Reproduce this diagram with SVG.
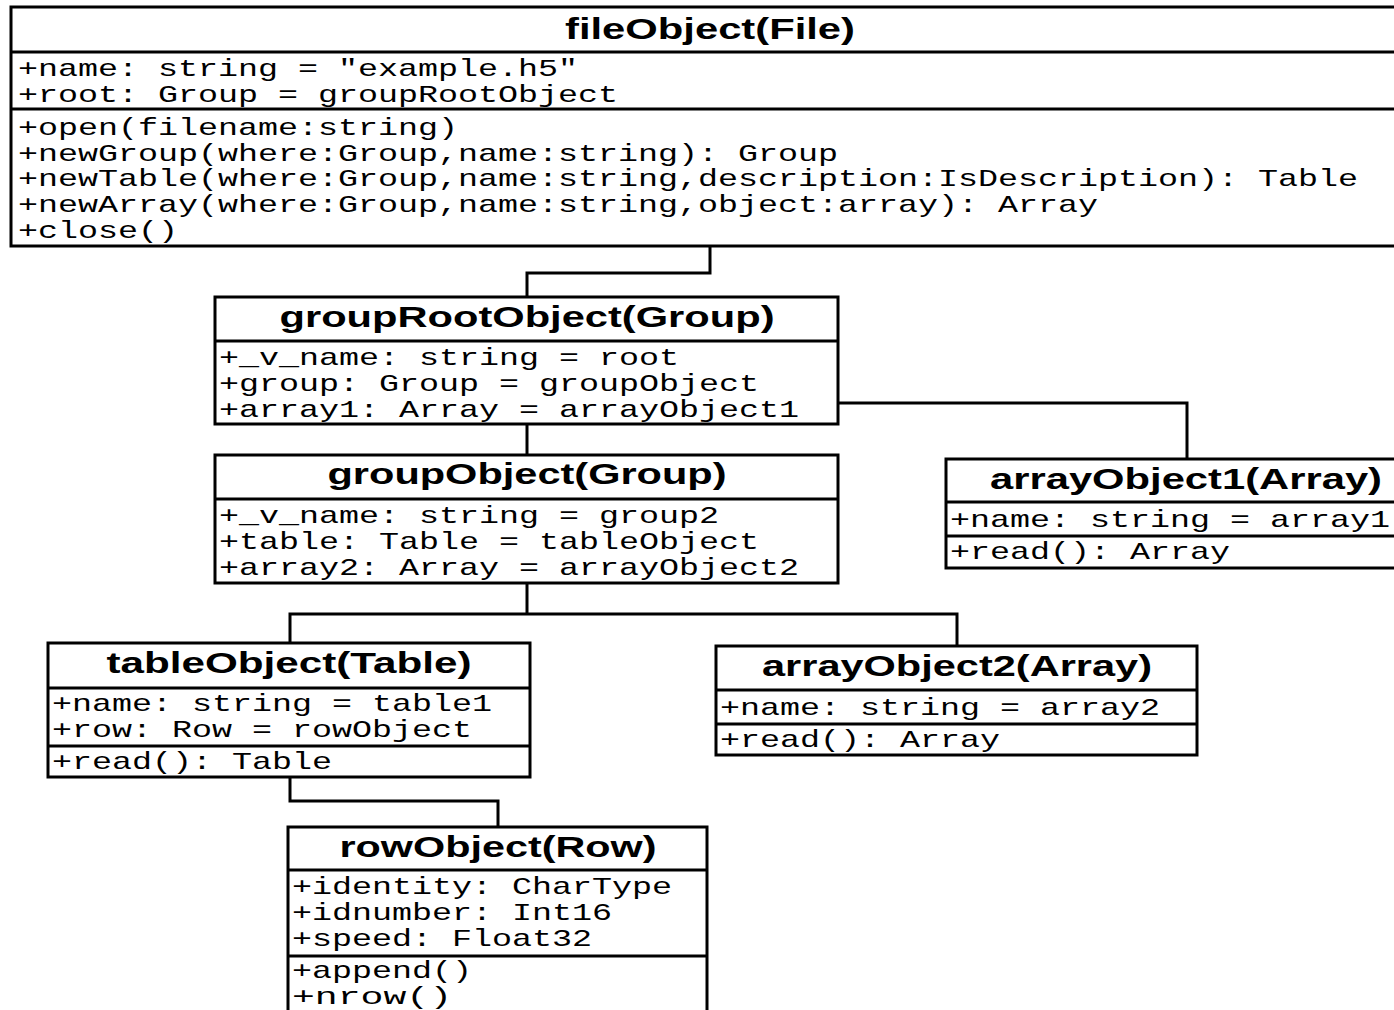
<svg xmlns="http://www.w3.org/2000/svg" width="1394" height="1010" viewBox="0 0 1394 1010">
  <style>
    .box { fill: #ffffff; stroke: #000000; stroke-width: 3; }
    .div { stroke: #000000; stroke-width: 3; }
    .title { font-family: "Liberation Sans", Arial, sans-serif; font-weight: bold; font-size: 29px; fill: #000000; text-anchor: middle; }
    .mono { font-family: "Liberation Mono", "Courier New", monospace; font-size: 24px; fill: #000000; }
    .conn { fill: none; stroke: #000000; stroke-width: 3; }
  </style>
  <rect width="1394" height="1010" fill="#ffffff"/>

  <!-- connectors -->
  <g id="connectors">
    <polyline class="conn" points="710,246 710,273 527,273 527,297"/>
    <polyline class="conn" points="838,403 1187,403 1187,459"/>
    <polyline class="conn" points="527,424 527,455"/>
    <polyline class="conn" points="527,583 527,614"/>
    <polyline class="conn" points="290,643 290,614 957,614 957,646"/>
    <polyline class="conn" points="290,777 290,801 498,801 498,827"/>
  </g>

  <!-- fileObject -->
  <g id="fileObject">
    <rect class="box" x="11" y="7" width="1390" height="239"/>
    <line class="div" x1="11" y1="52" x2="1401" y2="52"/>
    <line class="div" x1="11" y1="109" x2="1401" y2="109"/>
    <text class="title" x="710" y="39" textLength="290" lengthAdjust="spacingAndGlyphs">fileObject(File)</text>
    <text class="mono" x="18" y="76" textLength="560" lengthAdjust="spacingAndGlyphs">+name: string = "example.h5"</text>
    <text class="mono" x="18" y="102" textLength="600" lengthAdjust="spacingAndGlyphs">+root: Group = groupRootObject</text>
    <text class="mono" x="18" y="135" textLength="440" lengthAdjust="spacingAndGlyphs">+open(filename:string)</text>
    <text class="mono" x="18" y="161" textLength="820" lengthAdjust="spacingAndGlyphs">+newGroup(where:Group,name:string): Group</text>
    <text class="mono" x="18" y="186" textLength="1340" lengthAdjust="spacingAndGlyphs">+newTable(where:Group,name:string,description:IsDescription): Table</text>
    <text class="mono" x="18" y="212" textLength="1080" lengthAdjust="spacingAndGlyphs">+newArray(where:Group,name:string,object:array): Array</text>
    <text class="mono" x="18" y="238" textLength="160" lengthAdjust="spacingAndGlyphs">+close()</text>
  </g>

  <!-- groupRootObject -->
  <g id="groupRootObject">
    <rect class="box" x="215" y="297" width="623" height="127"/>
    <line class="div" x1="215" y1="341" x2="838" y2="341"/>
    <text class="title" x="527" y="327" textLength="495" lengthAdjust="spacingAndGlyphs">groupRootObject(Group)</text>
    <text class="mono" x="219" y="365" textLength="460" lengthAdjust="spacingAndGlyphs">+_v_name: string = root</text>
    <text class="mono" x="219" y="391" textLength="540" lengthAdjust="spacingAndGlyphs">+group: Group = groupObject</text>
    <text class="mono" x="219" y="417" textLength="580" lengthAdjust="spacingAndGlyphs">+array1: Array = arrayObject1</text>
  </g>

  <!-- groupObject -->
  <g id="groupObject">
    <rect class="box" x="215" y="455" width="623" height="128"/>
    <line class="div" x1="215" y1="499" x2="838" y2="499"/>
    <text class="title" x="527" y="484" textLength="399" lengthAdjust="spacingAndGlyphs">groupObject(Group)</text>
    <text class="mono" x="219" y="523" textLength="500" lengthAdjust="spacingAndGlyphs">+_v_name: string = group2</text>
    <text class="mono" x="219" y="549" textLength="540" lengthAdjust="spacingAndGlyphs">+table: Table = tableObject</text>
    <text class="mono" x="219" y="575" textLength="580" lengthAdjust="spacingAndGlyphs">+array2: Array = arrayObject2</text>
  </g>

  <!-- arrayObject1 -->
  <g id="arrayObject1">
    <rect class="box" x="946" y="459" width="455" height="109"/>
    <line class="div" x1="946" y1="502" x2="1401" y2="502"/>
    <line class="div" x1="946" y1="536" x2="1401" y2="536"/>
    <text class="title" x="1186" y="489" textLength="392" lengthAdjust="spacingAndGlyphs">arrayObject1(Array)</text>
    <text class="mono" x="950" y="527" textLength="440" lengthAdjust="spacingAndGlyphs">+name: string = array1</text>
    <text class="mono" x="950" y="559" textLength="280" lengthAdjust="spacingAndGlyphs">+read(): Array</text>
  </g>

  <!-- tableObject -->
  <g id="tableObject">
    <rect class="box" x="48" y="643" width="482" height="134"/>
    <line class="div" x1="48" y1="688" x2="530" y2="688"/>
    <line class="div" x1="48" y1="746" x2="530" y2="746"/>
    <text class="title" x="289" y="673" textLength="365" lengthAdjust="spacingAndGlyphs">tableObject(Table)</text>
    <text class="mono" x="52" y="711" textLength="440" lengthAdjust="spacingAndGlyphs">+name: string = table1</text>
    <text class="mono" x="52" y="737" textLength="420" lengthAdjust="spacingAndGlyphs">+row: Row = rowObject</text>
    <text class="mono" x="52" y="769" textLength="280" lengthAdjust="spacingAndGlyphs">+read(): Table</text>
  </g>

  <!-- arrayObject2 -->
  <g id="arrayObject2">
    <rect class="box" x="716" y="646" width="481" height="109"/>
    <line class="div" x1="716" y1="690" x2="1197" y2="690"/>
    <line class="div" x1="716" y1="724" x2="1197" y2="724"/>
    <text class="title" x="957" y="676" textLength="390" lengthAdjust="spacingAndGlyphs">arrayObject2(Array)</text>
    <text class="mono" x="720" y="715" textLength="440" lengthAdjust="spacingAndGlyphs">+name: string = array2</text>
    <text class="mono" x="720" y="747" textLength="280" lengthAdjust="spacingAndGlyphs">+read(): Array</text>
  </g>

  <!-- rowObject -->
  <g id="rowObject">
    <rect class="box" x="288" y="827" width="419" height="200"/>
    <line class="div" x1="288" y1="870" x2="707" y2="870"/>
    <line class="div" x1="288" y1="956" x2="707" y2="956"/>
    <text class="title" x="498" y="857" textLength="317" lengthAdjust="spacingAndGlyphs">rowObject(Row)</text>
    <text class="mono" x="292" y="894" textLength="380" lengthAdjust="spacingAndGlyphs">+identity: CharType</text>
    <text class="mono" x="292" y="920" textLength="320" lengthAdjust="spacingAndGlyphs">+idnumber: Int16</text>
    <text class="mono" x="292" y="946" textLength="300" lengthAdjust="spacingAndGlyphs">+speed: Float32</text>
    <text class="mono" x="292" y="978" textLength="180" lengthAdjust="spacingAndGlyphs">+append()</text>
    <text class="mono" x="292" y="1004" textLength="160" lengthAdjust="spacingAndGlyphs">+nrow()</text>
  </g>
</svg>
